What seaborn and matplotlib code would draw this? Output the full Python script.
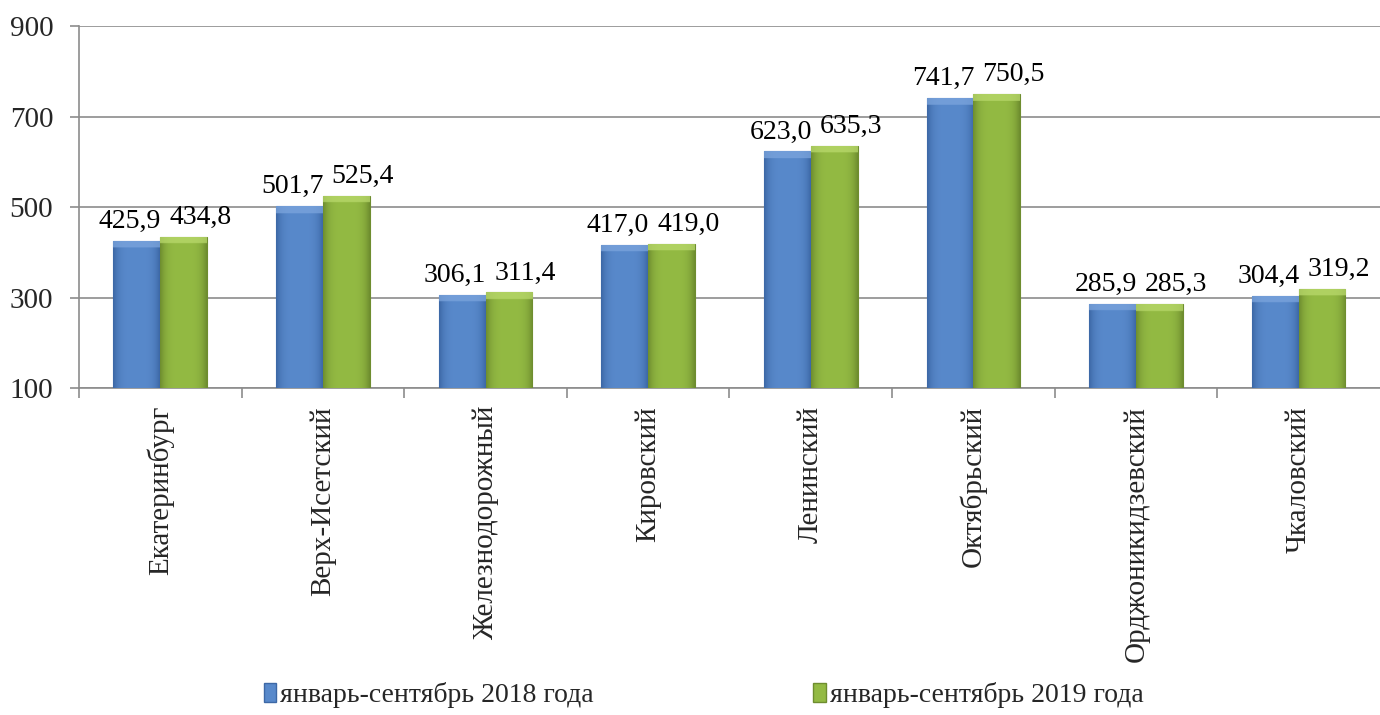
import matplotlib
matplotlib.use("Agg")
import matplotlib.pyplot as plt
import matplotlib.colors as mcolors
import numpy as np
import pandas as pd
import seaborn as sns
from matplotlib.patches import Patch

districts = [
    "Екатеринбург",
    "Верх-Исетский",
    "Железнодорожный",
    "Кировский",
    "Ленинский",
    "Октябрьский",
    "Орджоникидзевский",
    "Чкаловский",
]
series_names = ["январь-сентябрь 2018 года", "январь-сентябрь 2019 года"]
values_2018 = [425.9, 501.7, 306.1, 417.0, 623.0, 741.7, 285.9, 304.4]
values_2019 = [434.8, 525.4, 311.4, 419.0, 635.3, 750.5, 285.3, 319.2]
y_ticks = [100, 300, 500, 700, 900]

# (edge, middle, top-bevel) shades for the glossy bar look
SHADES = {
    series_names[0]: ("#3d68a6", "#5889cb", "#7ca5dd"),
    series_names[1]: ("#6e8d2f", "#93ba43", "#b9d96c"),
}
# label nudges in points (x) so neighbouring labels don't collide
LABEL_DX = {series_names[0]: -5, series_names[1]: 12}

sns.set_theme(style="white")
plt.rcParams["font.family"] = ["Liberation Serif", "DejaVu Serif"]

df = pd.DataFrame({
    "district": districts * 2,
    "value": values_2018 + values_2019,
    "period": [series_names[0]] * len(districts) + [series_names[1]] * len(districts),
})

fig = plt.figure(figsize=(13.8, 7.15), dpi=100)
ax = fig.add_axes([0.0572, 0.4573, 0.9428, 0.5063])

sns.barplot(
    data=df, x="district", y="value", hue="period",
    order=districts, hue_order=series_names,
    palette=[SHADES[s][1] for s in series_names],
    width=0.575, gap=0, saturation=1, errorbar=None, legend=False, ax=ax,
)

ax.set_ylim(100, 900)
ax.set_xlim(-0.5, len(districts) - 0.5)


def shade_bar(bar, edge, mid, top):
    x, w = bar.get_x(), bar.get_width()
    h = bar.get_height()
    e = np.array(mcolors.to_rgb(edge))
    m = np.array(mcolors.to_rgb(mid))
    t = np.array(mcolors.to_rgb(top))
    nx, ny = 60, 300
    u = np.linspace(-1, 1, nx)
    wgt = np.clip(np.abs(u) ** 4, 0, 1)[None, :, None]
    img = np.repeat(m[None, None, :] * (1 - wgt) + e[None, None, :] * wgt, ny, axis=0)
    # light bevel on top
    bevel = 7 / (362 / 800) / max(h - 100, 1)
    rows = np.linspace(1, 0, ny)[:, None, None]
    top_mask = rows > (1 - bevel)
    img = np.where(top_mask, t[None, None, :] * 0.75 + img * 0.25, img)
    im = ax.imshow(img, extent=(x, x + w, 100, h), aspect="auto",
                   origin="upper", zorder=3, interpolation="bilinear")
    im.set_clip_path(bar)
    bar.set_edgecolor(edge)
    bar.set_linewidth(0.8)
    bar.set_zorder(3)


for container, name in zip(ax.containers, series_names):
    for bar, val in zip(container, container.datavalues):
        shade_bar(bar, *SHADES[name])
        ax.annotate(f"{val:.1f}".replace(".", ","),
                    xy=(bar.get_x() + bar.get_width() / 2, bar.get_height()),
                    xytext=(LABEL_DX[name], 5), textcoords="offset points",
                    ha="center", va="bottom", fontsize=20, color="black", zorder=5)

ax.set_ylim(100, 900)
ax.set_xlim(-0.5, len(districts) - 0.5)

ax.set_yticks(y_ticks)
ax.set_yticklabels([str(t) for t in y_ticks], fontsize=21)
ax.yaxis.grid(True, color="#8c8c8c", linewidth=1.2)
ax.set_axisbelow(True)
ax.tick_params(axis="y", length=6.5, color="#8c8c8c", width=1.2, pad=12, left=True)

ax.set_xticks(range(len(districts)))
ax.set_xticklabels(districts, rotation=90, fontsize=21, va="top")
ax.set_xticks(np.arange(-0.5, len(districts) - 0.5, 1), minor=True)
ax.tick_params(axis="x", which="major", length=0, pad=13)
ax.tick_params(axis="x", which="minor", length=7, color="#8c8c8c", width=1.2, bottom=True)
ax.set_xlabel("")
ax.set_ylabel("")

for side in ("top", "right"):
    ax.spines[side].set_visible(False)
for side in ("left", "bottom"):
    ax.spines[side].set_color("#8c8c8c")
    ax.spines[side].set_linewidth(1.2)

handles = [Patch(facecolor=SHADES[s][1], edgecolor=SHADES[s][0], label=s) for s in series_names]
fig.legend(handles=handles, loc="center", bbox_to_anchor=(0.51, 0.028), ncol=2,
           frameon=False, fontsize=20, handlelength=0.45, handleheight=0.7,
           handletextpad=0.15, columnspacing=7.9, borderpad=0)

fig.savefig("out.png", dpi=100)
